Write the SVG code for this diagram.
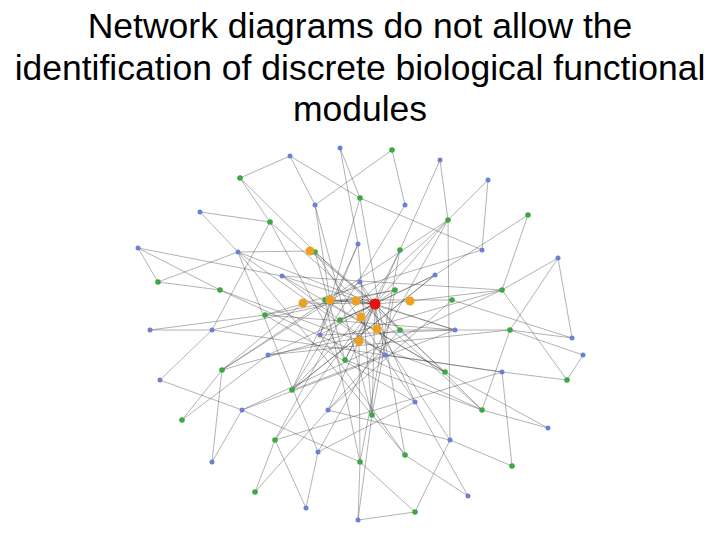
<svg xmlns="http://www.w3.org/2000/svg" width="720" height="540" viewBox="0 0 720 540">
<style>
.t{font-family:"Liberation Sans",Arial,sans-serif;font-size:35.5px;fill:#000;text-anchor:middle}
.e{fill:none;stroke:#333;stroke-width:0.5;stroke-opacity:0.75}
.b{fill:#6f7fd6}.g{fill:#3aa845}.o{fill:#f0a020}.r{fill:#e81010}
</style>
<rect width="720" height="540" fill="#fff"/>
<text class="t" x="360" y="38">Network diagrams do not allow the</text>
<text class="t" x="360" y="80">identification of discrete biological functional</text>
<text class="t" x="360" y="121">modules</text>
<g id="connectors">
<path class="e" d="M572 338L510 330M572 338L452 300M567 380L502 372M567 380L502 290M548 428L482 410M548 428L445 372M512 466L450 440M512 466L502 372M468 496L405 455M468 496L415 402M415 512L360 462M415 512L450 440M358 520L360 462M358 520L372 415M306 508L318 452M306 508L275 440M255 492L275 440M255 492L328 410M212 462L242 410M212 462L222 370M182 420L222 370M182 420L268 355M160 380L212 330M160 380L242 410M150 330L212 330M150 330L265 315M158 282L220 290M158 282L238 252M138 248L220 290M138 248L282 276M200 212L238 252M200 212L270 222M240 178L270 222M240 178L315 252M290 156L315 205M290 156L360 198M340 148L360 198M340 148L358 244M392 150L405 205M392 150L315 205M440 160L448 220M440 160L400 250M488 180L482 250M488 180L448 220M528 215L502 290M528 215L435 275M558 258L502 290M558 258L510 330M583 355L510 330M583 355L567 380M138 248L158 282M572 338L558 258M358 520L415 512M290 156L240 178"/>
<path class="e" d="M510 330L400 330M502 372L385 355M482 410L345 360M450 440L328 410M405 455L320 335M360 462L325 300M318 452L415 402M275 440L340 320M242 410L455 330M222 370L360 282M212 330L395 290M220 290L445 372M238 252L385 355M270 222L345 360M315 205L372 415M360 198L320 335M405 205L292 390M448 220L340 320M482 250L265 315M502 290L282 276M510 330L482 410M360 462L242 410M212 330L270 222M360 198L482 250M450 440L448 220M222 370L502 290M318 452L238 252"/>
<path class="e" d="M455 330L320 335M445 372L325 300M415 402L360 282M372 415L395 290M328 410L400 330M292 390L385 355M268 355L400 330M265 315L395 290M282 276L385 355M315 252L345 360M358 244L320 335M400 250L345 360M435 275L340 320M452 300L325 300M455 330L265 315M372 415L358 244M292 390L435 275M445 372L282 276M315 252L415 402"/>
<path class="e" d="M502 372L275 440M482 410L220 290M405 455L238 252M360 462L400 250M318 452L448 220M242 410L502 290M212 330L502 372M270 222L482 410M360 198L405 455M448 220L222 370M510 330L268 355M445 372L315 252M415 402L265 315M328 410L452 300M292 390L358 244M282 276L455 330M400 250L328 410M435 275L292 390"/>
<path class="e" d="M375 304L400 330M375 304L385 355M375 304L345 360M375 304L320 335M375 304L325 300M375 304L360 282M375 304L395 290M375 304L340 320M375 304L455 330M375 304L372 415M375 304L268 355M375 304L315 252M375 304L435 275M375 304L482 410M375 304L275 440M375 304L238 252M375 304L448 220M375 304L310 251M375 304L303 303M375 304L330 300M375 304L356 301M375 304L361 317M375 304L377 329M375 304L359 341M375 304L410 301M310 251L238 252M303 303L222 370M410 301L502 290M359 341L360 462M330 300L315 205M377 329L450 440M361 317L292 390"/>
</g>
<g id="nodes">
<g class="b"><circle cx="572" cy="338" r="2.5"/><circle cx="548" cy="428" r="2.5"/><circle cx="468" cy="496" r="2.5"/><circle cx="358" cy="520" r="2.5"/><circle cx="306" cy="508" r="2.5"/><circle cx="212" cy="462" r="2.5"/><circle cx="160" cy="380" r="2.5"/><circle cx="150" cy="330" r="2.5"/><circle cx="138" cy="248" r="2.5"/><circle cx="200" cy="212" r="2.5"/><circle cx="290" cy="156" r="2.5"/><circle cx="340" cy="148" r="2.5"/><circle cx="440" cy="160" r="2.5"/><circle cx="488" cy="180" r="2.5"/><circle cx="558" cy="258" r="2.5"/><circle cx="583" cy="355" r="2.5"/><circle cx="502" cy="372" r="2.5"/><circle cx="450" cy="440" r="2.5"/><circle cx="318" cy="452" r="2.5"/><circle cx="242" cy="410" r="2.5"/><circle cx="212" cy="330" r="2.5"/><circle cx="238" cy="252" r="2.5"/><circle cx="315" cy="205" r="2.5"/><circle cx="405" cy="205" r="2.5"/><circle cx="482" cy="250" r="2.5"/><circle cx="455" cy="330" r="2.5"/><circle cx="415" cy="402" r="2.5"/><circle cx="328" cy="410" r="2.5"/><circle cx="268" cy="355" r="2.5"/><circle cx="282" cy="276" r="2.5"/><circle cx="358" cy="244" r="2.5"/><circle cx="435" cy="275" r="2.5"/><circle cx="385" cy="355" r="2.5"/><circle cx="320" cy="335" r="2.5"/><circle cx="360" cy="282" r="2.5"/></g>
<g class="g"><circle cx="567" cy="380" r="2.8"/><circle cx="512" cy="466" r="2.8"/><circle cx="415" cy="512" r="2.8"/><circle cx="255" cy="492" r="2.8"/><circle cx="182" cy="420" r="2.8"/><circle cx="158" cy="282" r="2.8"/><circle cx="240" cy="178" r="2.8"/><circle cx="392" cy="150" r="2.8"/><circle cx="528" cy="215" r="2.8"/><circle cx="510" cy="330" r="2.8"/><circle cx="482" cy="410" r="2.8"/><circle cx="405" cy="455" r="2.8"/><circle cx="360" cy="462" r="2.8"/><circle cx="275" cy="440" r="2.8"/><circle cx="222" cy="370" r="2.8"/><circle cx="220" cy="290" r="2.8"/><circle cx="270" cy="222" r="2.8"/><circle cx="360" cy="198" r="2.8"/><circle cx="448" cy="220" r="2.8"/><circle cx="502" cy="290" r="2.8"/><circle cx="445" cy="372" r="2.8"/><circle cx="372" cy="415" r="2.8"/><circle cx="292" cy="390" r="2.8"/><circle cx="265" cy="315" r="2.8"/><circle cx="315" cy="252" r="2.8"/><circle cx="400" cy="250" r="2.8"/><circle cx="452" cy="300" r="2.8"/><circle cx="400" cy="330" r="2.8"/><circle cx="345" cy="360" r="2.8"/><circle cx="325" cy="300" r="2.8"/><circle cx="395" cy="290" r="2.8"/><circle cx="340" cy="320" r="2.8"/></g>
<g class="o"><circle cx="310" cy="251" r="4.5"/><circle cx="303" cy="303" r="4.5"/><circle cx="330" cy="300" r="4.5"/><circle cx="356" cy="301" r="4.5"/><circle cx="361" cy="317" r="4.5"/><circle cx="377" cy="329" r="4.5"/><circle cx="359" cy="341" r="4.5"/><circle cx="410" cy="301" r="4.5"/></g>
<circle id="hub" class="r" cx="375" cy="304" r="5.5"/>
</g>
</svg>
